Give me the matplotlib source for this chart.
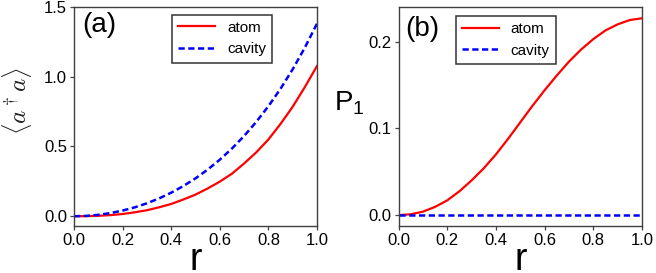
import matplotlib
matplotlib.use('Agg')
import matplotlib.pyplot as plt

plt.rcParams['font.family'] = ['Liberation Sans', 'DejaVu Sans']
plt.rcParams['mathtext.fontset'] = 'custom'
plt.rcParams['mathtext.rm'] = 'Liberation Sans'

r = [0.0, 0.05, 0.1, 0.15, 0.2, 0.25, 0.3, 0.35, 0.4, 0.45, 0.5,
     0.55, 0.6, 0.65, 0.7, 0.75, 0.8, 0.85, 0.9, 0.95, 1.0]

# (a) mean excitation number
n_atom = [0.0, 0.0007, 0.003, 0.008, 0.016, 0.028, 0.043, 0.064, 0.088, 0.12,
          0.155, 0.199, 0.248, 0.305, 0.378, 0.458, 0.55, 0.662, 0.785, 0.926, 1.077]
n_cavity = [0.0, 0.0025, 0.0100, 0.0227, 0.0405, 0.0638, 0.0927, 0.1276, 0.1688, 0.2165,
            0.2715, 0.3343, 0.4053, 0.4854, 0.5755, 0.6762, 0.7887, 0.9141, 1.0537, 1.2089, 1.3811]

# (b) P1
p_atom = [0.0, 0.001, 0.004, 0.0095, 0.017, 0.0275, 0.040, 0.054, 0.070, 0.088, 0.107,
          0.126, 0.144, 0.161, 0.177, 0.191, 0.203, 0.213, 0.220, 0.225, 0.227]
p_cavity = [0.0] * len(r)

spine_col = '#404040'
fig = plt.figure(figsize=(6.56, 2.73), dpi=100)
ax1 = fig.add_axes([74 / 656, 1 - 226 / 273, 243 / 656, 219 / 273])
ax2 = fig.add_axes([398.5 / 656, 1 - 226 / 273, 243.5 / 656, 219 / 273])

for ax in (ax1, ax2):
    for s in ax.spines.values():
        s.set_color(spine_col)
        s.set_linewidth(1.0)
    ax.tick_params(labelsize=12, length=3, width=0.9, color=spine_col, pad=2)
    ax.set_xlim(0, 1)
    ax.set_xticks([0, 0.2, 0.4, 0.6, 0.8, 1.0])
    ax.set_xlabel('r', fontsize=27, labelpad=-4)

ax1.plot(r, n_atom, color='#ff0000', lw=1.6, label='atom')
ax1.plot(r, n_cavity, color='#0000ff', lw=1.8, ls=(0, (2.5, 1.4)), label='cavity')
ax1.set_ylim(-0.07, 1.5)
ax1.set_yticks([0.0, 0.5, 1.0, 1.5])
ax1.set_ylabel(r'$\langle a^\dagger a\rangle$', fontsize=18, color='#222222',
               math_fontfamily='cm')
ax1.yaxis.set_label_coords(-0.165, 0.57)
ax1.text(0.034, 0.975, '(a)', transform=ax1.transAxes, fontsize=20, va='top', ha='left')
leg1 = ax1.legend(loc='upper left', bbox_to_anchor=(0.403, 0.965), borderaxespad=0,
                  fontsize=11, handlelength=2.4, fancybox=False, framealpha=1,
                  edgecolor='#333333')
leg1.get_frame().set_linewidth(1.1)

ax2.plot(r, p_atom, color='#ff0000', lw=1.6, label='atom')
ax2.plot(r, p_cavity, color='#0000ff', lw=1.8, ls=(0, (2.5, 1.4)), label='cavity')
ax2.set_ylim(-0.0125, 0.24)
ax2.set_yticks([0.0, 0.1, 0.2])
ax2.set_ylabel(r'P$_\mathregular{1}$', fontsize=20, rotation=0, ha='center', va='center')
ax2.yaxis.set_label_coords(-0.2, 0.56)
ax2.text(0.027, 0.96, '(b)', transform=ax2.transAxes, fontsize=20, va='top', ha='left')
leg2 = ax2.legend(loc='upper left', bbox_to_anchor=(0.235, 0.96), borderaxespad=0,
                  fontsize=11, handlelength=2.4, fancybox=False, framealpha=1,
                  edgecolor='#333333')
leg2.get_frame().set_linewidth(1.1)

fig.savefig('out.png', dpi=100)
